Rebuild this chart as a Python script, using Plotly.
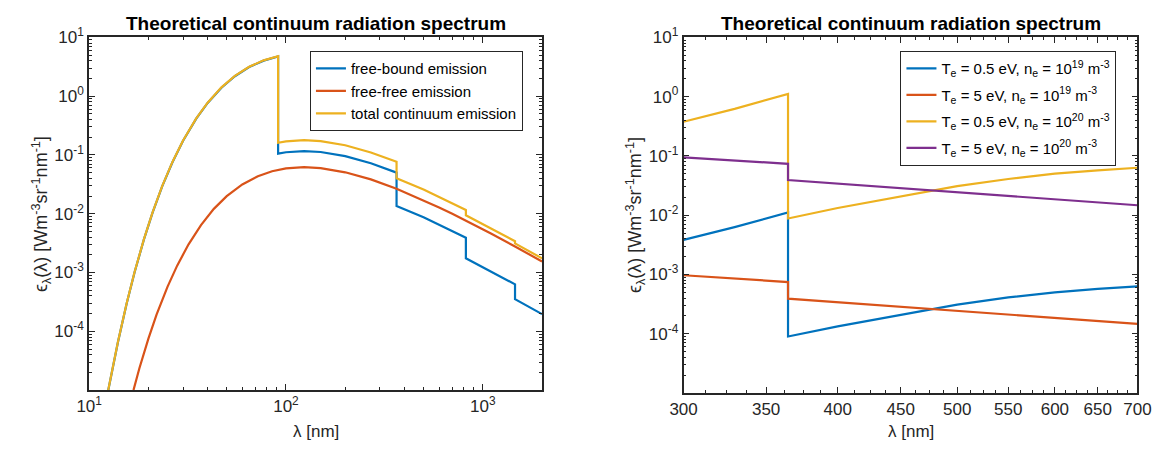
import plotly.graph_objects as go

# ---------------- left panel: continuum components vs wavelength ----------------
ff_lam = [16.8, 18, 20, 22, 25, 28, 32, 37, 43, 50, 60, 72, 85, 91.2, 100, 123.5,
          150, 200, 270, 364.6, 500, 600, 700, 820.4, 1100, 1458, 2000]
ff_val = [1.0e-5, 2.36e-5, 7.5e-5, 1.92e-4, 5.7e-4, 1.31e-3, 3.02e-3, 6.4e-3, 1.21e-2,
          1.99e-2, 3.15e-2, 4.35e-2, 5.27e-2, 5.58e-2, 5.89e-2, 6.18e-2, 5.96e-2,
          5.06e-2, 3.83e-2, 2.66e-2, 1.70e-2, 1.28e-2, 9.98e-3, 7.66e-3, 4.59e-3,
          2.77e-3, 1.54e-3]

fb_lam = [12.5, 13, 14, 15.5, 17, 19, 21, 23.5, 26.5, 30, 35, 40, 47, 55, 65, 77, 91.2,
          91.2, 100, 123.5, 150, 200, 270, 364.6,
          364.6, 500, 600, 700, 820.4,
          820.4, 1100, 1458,
          1458, 2000]
fb_val = [9.9e-6, 1.96e-5, 6.5e-5, 2.94e-4, 1.0e-3, 3.69e-3, 1.04e-2, 2.91e-2, 7.5e-2,
          0.174, 0.414, 0.765, 1.39, 2.18, 3.12, 4.01, 4.72,
          0.105, 0.111, 0.116, 0.112, 0.0951, 0.0720, 0.0500,
          0.01357, 0.00867, 0.00653, 0.00509, 0.00391,
          0.00175, 0.00105, 6.3e-4,
          3.52e-4, 1.96e-4]

tot_lam = fb_lam
tot_val = [1.0e-5, 1.98e-5, 6.6e-5, 2.98e-4, 1.01e-3, 3.73e-3, 1.05e-2, 2.94e-2, 7.6e-2,
           0.176, 0.419, 0.774, 1.41, 2.21, 3.16, 4.06, 4.78,
           0.161, 0.170, 0.178, 0.172, 0.146, 0.110, 0.0766,
           0.0402, 0.0257, 0.0193, 0.0151, 0.01157,
           0.00941, 0.00564, 0.00340,
           0.00312, 0.00174]

# ---------------- right panel: four plasma conditions, 300-700 nm ----------------
lam_lowT = [300, 330, 364.6, 364.6, 400, 450, 500, 550, 600, 650, 700]
te05_ne19 = [3.83e-3, 6.3e-3, 1.11e-2, 9.0e-5, 1.33e-4, 2.1e-4, 3.1e-4, 4.1e-4,
             5.0e-4, 5.7e-4, 6.3e-4]
te05_ne20 = [0.376, 0.62, 1.11, 8.8e-3, 1.32e-2, 2.09e-2, 3.09e-2, 4.07e-2,
             5.01e-2, 5.69e-2, 6.3e-2]

lam_highT = [300, 364.6, 364.6, 450, 550, 700]
te5_ne19 = [9.7e-4, 7.45e-4, 3.9e-4, 2.85e-4, 2.1e-4, 1.47e-4]
te5_ne20 = [9.44e-2, 7.35e-2, 3.91e-2, 2.85e-2, 2.11e-2, 1.47e-2]

BLUE, RED, YELLOW, PURPLE = "#0072BD", "#D95319", "#EDB120", "#7E2F8E"
INK = "#262626"
FONT = "Liberation Sans, Arial, Helvetica, sans-serif"
W, H = 1169, 449
LW = 2.2

fig = go.Figure()
fig.add_trace(go.Scatter(x=fb_lam, y=fb_val, mode="lines", name="free-bound emission",
                         line=dict(color=BLUE, width=LW), xaxis="x", yaxis="y", legend="legend"))
fig.add_trace(go.Scatter(x=ff_lam, y=ff_val, mode="lines", name="free-free emission",
                         line=dict(color=RED, width=LW), xaxis="x", yaxis="y", legend="legend"))
fig.add_trace(go.Scatter(x=tot_lam, y=tot_val, mode="lines", name="total continuum emission",
                         line=dict(color=YELLOW, width=LW), xaxis="x", yaxis="y", legend="legend"))

right_series = [
    (lam_lowT, te05_ne19, BLUE, "T<sub>e</sub> = 0.5 eV, n<sub>e</sub> = 10<sup>19</sup> m<sup>-3</sup>"),
    (lam_highT, te5_ne19, RED, "T<sub>e</sub> = 5 eV, n<sub>e</sub> = 10<sup>19</sup> m<sup>-3</sup>"),
    (lam_lowT, te05_ne20, YELLOW, "T<sub>e</sub> = 0.5 eV, n<sub>e</sub> = 10<sup>20</sup> m<sup>-3</sup>"),
    (lam_highT, te5_ne20, PURPLE, "T<sub>e</sub> = 5 eV, n<sub>e</sub> = 10<sup>20</sup> m<sup>-3</sup>"),
]
for i, (xs, ys, col, name) in enumerate(right_series):
    fig.add_trace(go.Scatter(x=xs, y=ys, mode="lines", name=name, legendgroup=f"case{i}",
                             line=dict(color=col, width=LW), xaxis="x2", yaxis="y2",
                             legend="legend2"))

# axis geometry in pixels
L1, R1, T1, B1 = 77, 541, 26, 388.5
L2, R2, T2, B2 = 686, 1151, 26, 391.5


def px_x(p):
    return p / W


def px_y(p):
    return 1 - p / H


tickfont = dict(family=FONT, size=17, color=INK)
y_minor = [k * 10 ** e for e in range(-5, 1) for k in range(2, 10)]
y_ticks = [1e-4, 1e-3, 1e-2, 1e-1, 1, 10]
y_text = ["10<sup>-4</sup>", "10<sup>-3</sup>", "10<sup>-2</sup>", "10<sup>-1</sup>",
          "10<sup>0</sup>", "10<sup>1</sup>"]

axis_common = dict(showline=True, linecolor=INK, linewidth=1.8, mirror="ticks",
                   ticks="inside", ticklen=6, tickwidth=1.2, tickcolor=INK,
                   showgrid=False, zeroline=False, tickfont=tickfont)


def yaxis(domain, anchor):
    return dict(axis_common, type="log", range=[-5, 1], domain=domain, anchor=anchor,
                tickmode="array", tickvals=y_ticks, ticktext=y_text,
                minor=dict(ticks="inside", ticklen=3, tickwidth=1, tickcolor=INK,
                           tickmode="array", tickvals=y_minor, showgrid=False))


fig.update_layout(
    width=W, height=H, margin=dict(l=0, r=0, t=0, b=0),
    paper_bgcolor="white", plot_bgcolor="white", showlegend=True,
    font=dict(family=FONT, color=INK),
    xaxis=dict(axis_common, type="log", range=[1, 3.30103],
               domain=[px_x(L1), px_x(R1)], anchor="y",
               tickmode="array", tickvals=[10, 100, 1000],
               ticktext=["10<sup>1</sup>", "10<sup>2</sup>", "10<sup>3</sup>"],
               minor=dict(ticks="inside", ticklen=3, tickwidth=1, tickcolor=INK,
                          tickmode="array",
                          tickvals=[k * 10 ** e for e in (1, 2) for k in range(2, 10)],
                          showgrid=False)),
    yaxis=yaxis([px_y(B1), px_y(T1)], "x"),
    xaxis2=dict(axis_common, type="log", range=[2.4771213, 2.8450980],
                domain=[px_x(L2), px_x(R2)], anchor="y2",
                tickmode="array", tickvals=[300, 350, 400, 450, 500, 550, 600, 650, 700],
                ticktext=["300", "350", "400", "450", "500", "550", "600", "650", "700"],
                minor=dict(ticks="inside", ticklen=3, tickwidth=1, tickcolor=INK,
                           tickmode="array",
                           tickvals=[300 + 12.5 * i for i in range(1, 32) if i % 4],
                           showgrid=False)),
    yaxis2=yaxis([px_y(B2), px_y(T2)], "x2"),
    legend=dict(x=px_x(303), y=px_y(40), xanchor="left", yanchor="top",
                bgcolor="white", bordercolor=INK, borderwidth=1.2,
                font=dict(family=FONT, size=15, color="black"), tracegroupgap=0),
    legend2=dict(x=px_x(908), y=px_y(40), xanchor="left", yanchor="top",
                 bgcolor="white", bordercolor=INK, borderwidth=1.2,
                 font=dict(family=FONT, size=15, color="black"), tracegroupgap=4),
)

title_txt = "<b>Theoretical continuum radiation spectrum</b>"
ylab = "\u03f5<sub>\u03bb</sub>(\u03bb) [Wm<sup>-3</sup>sr<sup>-1</sup>nm<sup>-1</sup>]"
ann = []
for (l, r, t, b, yx) in [(L1, R1, T1, B1, 28), (L2, R2, T2, B2, 636)]:
    ann.append(dict(text=title_txt, x=px_x((l + r) / 2), y=px_y(12), xref="paper", yref="paper",
                    showarrow=False, xanchor="center", yanchor="middle",
                    font=dict(family=FONT, size=19, color="black")))
    ann.append(dict(text="\u03bb [nm]", x=px_x((l + r) / 2), y=px_y(431), xref="paper",
                    yref="paper", showarrow=False, xanchor="center", yanchor="middle",
                    font=dict(family=FONT, size=17, color=INK)))
    ann.append(dict(text=ylab, x=px_x(yx), y=px_y((t + b) / 2), xref="paper", yref="paper",
                    showarrow=False, xanchor="center", yanchor="middle", textangle=-90,
                    font=dict(family=FONT, size=18, color=INK)))
fig.update_layout(annotations=ann)

fig.write_html("out.html")
